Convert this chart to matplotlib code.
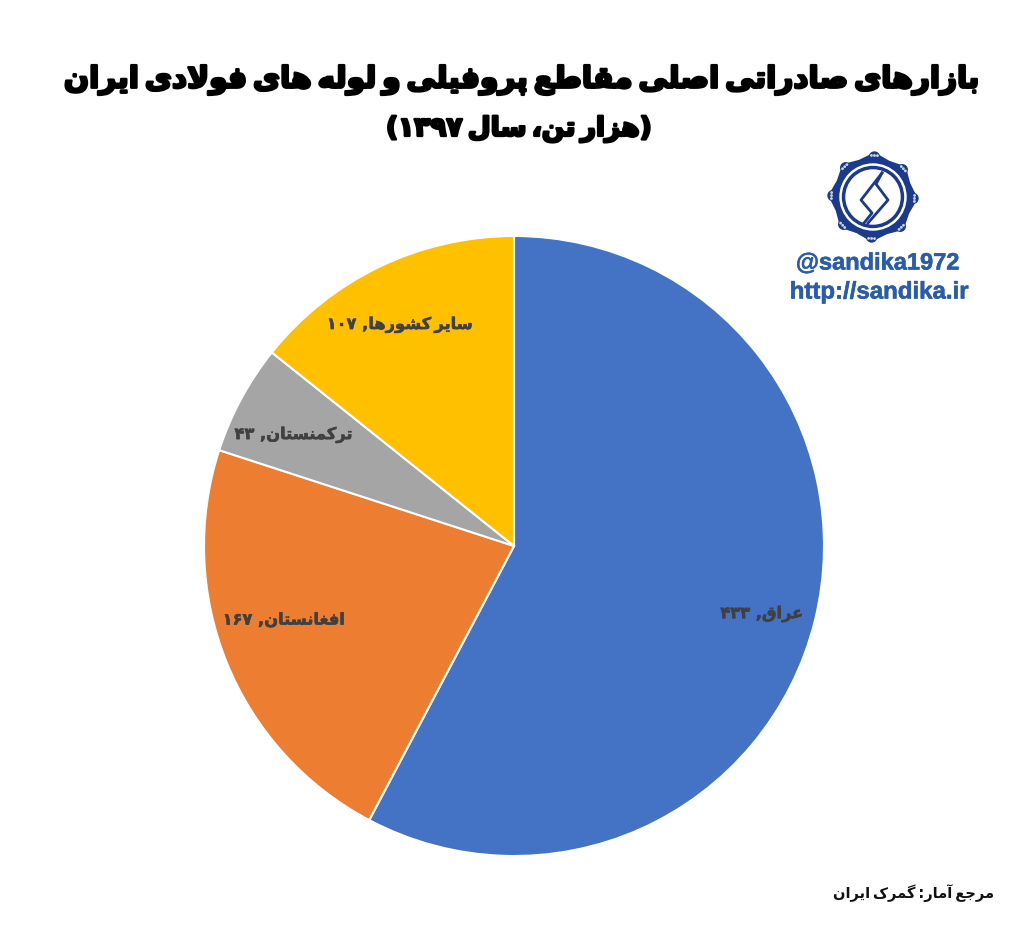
#!/usr/bin/python

import numpy as np
import matplotlib
matplotlib.use('agg')
import matplotlib.pyplot as plt
import matplotlib.patheffects as pe
from matplotlib.patches import Circle, Polygon

countries = ['عراق', 'افغانستان', 'ترکمنستان', 'سایر کشورها']
values = [433, 167, 43, 107]
value_labels = ['۴۳۳', '۱۶۷', '۴۳', '۱۰۷']
colors = ['#4472C4', '#ED7D31', '#A5A5A5', '#FFC000']
title = 'بازارهای صادراتی اصلی مقاطع پروفیلی و لوله های فولادی ایران'
subtitle = 'هزار تن، سال'
subtitle_year = '۱۳۹۷'
source = 'مرجع آمار: گمرک ایران'

# matplotlib does not shape arabic, so pick the joined glyphs by hand
forms = {
	'ا': 'ﺍﺎ', 'آ': 'ﺁﺂ', 'د': 'ﺩﺪ', 'ر': 'ﺭﺮ', 'ز': 'ﺯﺰ', 'و': 'ﻭﻮ',
	'ب': 'ﺏﺐﺑﺒ', 'پ': 'ﭖﭗﭘﭙ', 'ت': 'ﺕﺖﺗﺘ', 'ج': 'ﺝﺞﺟﺠ', 'س': 'ﺱﺲﺳﺴ',
	'ش': 'ﺵﺶﺷﺸ', 'ص': 'ﺹﺺﺻﺼ', 'ط': 'ﻁﻂﻃﻄ', 'ع': 'ﻉﻊﻋﻌ', 'غ': 'ﻍﻎﻏﻐ',
	'ف': 'ﻑﻒﻓﻔ', 'ق': 'ﻕﻖﻗﻘ', 'ک': 'ﮎﮏﮐﮑ', 'گ': 'ﮒﮓﮔﮕ', 'ل': 'ﻝﻞﻟﻠ',
	'م': 'ﻡﻢﻣﻤ', 'ن': 'ﻥﻦﻧﻨ', 'ه': 'ﻩﻪﻫﻬ', 'ی': 'ﯼﯽﯾﯿ',
}

def shape(text):
	text = text.replace('لا', '\ufefb')
	out = []
	for i, c in enumerate(text):
		if c == '\ufefb':
			prev = text[i-1] if i > 0 else ' '
			out.append('\ufefc' if prev in forms and len(forms[prev]) == 4 else c)
			continue
		if c not in forms:
			out.append(c)
			continue
		prev = text[i-1] if i > 0 else ' '
		nxt = text[i+1] if i < len(text)-1 else ' '
		join_prev = prev in forms and len(forms[prev]) == 4
		join_next = len(forms[c]) == 4 and (nxt in forms or nxt == '\ufefb')
		if join_prev and join_next:
			out.append(forms[c][3])
		elif join_next:
			out.append(forms[c][2])
		elif join_prev:
			out.append(forms[c][1])
		else:
			out.append(forms[c][0])
	return ''.join(reversed(out))

def tight(text):
	# the reference font has very narrow word gaps
	return shape(text).replace(' ', '\u2009')

W, H = 1024, 930
cx, cy, r = 514, 546, 310
fig = plt.figure(figsize=(W/100, H/100), dpi=100, facecolor='white')

ax = fig.add_axes([(cx-r)/W, (H-cy-r)/H, 2*r/W, 2*r/H])
ax.pie(values, colors=colors, startangle=90, counterclock=False,
	wedgeprops={'edgecolor': 'white', 'linewidth': 1.5})
ax.set_xlim(-1, 1)
ax.set_ylim(-1, 1)

label_pos = [(0.80, -0.22), (-0.742, -0.239), (-0.71, 0.358), (-0.368, 0.713)]
for name, val, (x, y) in zip(countries, value_labels, label_pos):
	ax.text(x, y, val + ' ,' + tight(name), ha='center', va='center',
		fontsize=11.7, fontweight='bold', color='#404040', family='DejaVu Sans',
		path_effects=[pe.withStroke(linewidth=0.4, foreground='#404040')])

# pixel coordinates for the heading, logo and footer
top = fig.add_axes([0, 0, 1, 1], facecolor='none')
top.set_xlim(0, W)
top.set_ylim(H, 0)
top.axis('off')

heavy = [pe.withStroke(linewidth=1.8, foreground='black')]
top.text(522, 80, tight(title), ha='center', va='center', fontsize=21.3,
	fontweight='bold', color='black', family='DejaVu Sans', path_effects=heavy)
top.text(519, 129, '(' + subtitle_year + '\u2009' + tight(subtitle) + ')', ha='center', va='center',
	fontsize=19, fontweight='bold', color='black', family='DejaVu Sans', path_effects=heavy)
top.text(994, 893, tight(source), ha='right', va='center', fontsize=10.5,
	fontweight='bold', color='#111111', family='DejaVu Sans')

navy = '#1B3A8C'
text_blue = '#2A5CA8'
lx, ly = 873, 197
ang = np.deg2rad(np.arange(16)*22.5 - 88)
rad = np.where(np.arange(16) % 2 == 0, 44, 39)
top.add_patch(Polygon(np.c_[lx+rad*np.cos(ang), ly+rad*np.sin(ang)], closed=True, color=navy))
# little scalloped knobs on the star tips
for a in ang[::2]:
	tx, ty = lx+40*np.cos(a), ly+40*np.sin(a)
	top.add_patch(Circle((tx, ty), 5, color=navy))
	for d in (-3, 0, 3):
		top.add_patch(Circle((tx-d*np.sin(a)+1.5*np.cos(a), ty+d*np.cos(a)+1.5*np.sin(a)), 0.7, color='#C9D3E8'))
top.add_patch(Circle((lx, ly), 33, color='white'))
top.add_patch(Circle((lx, ly), 30.5, color=navy))
top.add_patch(Circle((lx, ly), 27, color='white'))
s_line = np.array([[9, -24], [-12, 3], [-1, 16], [-9, 26]])
s_line2 = np.array([[9, -24], [3, -13], [15, 3], [-5, 26]])
top.plot(lx+s_line[:, 0], ly+s_line[:, 1], color=navy, lw=2)
top.plot(lx+s_line2[:, 0], ly+s_line2[:, 1], color=navy, lw=2)

top.text(878, 263, '@sandika1972', ha='center', va='center', fontsize=17,
	fontweight='bold', color=text_blue, family='Liberation Sans',
	path_effects=[pe.withStroke(linewidth=0.4, foreground=text_blue)])
top.text(879, 292, 'http://sandika.ir', ha='center', va='center', fontsize=17.3,
	fontweight='bold', color=text_blue, family='Liberation Sans',
	path_effects=[pe.withStroke(linewidth=0.4, foreground=text_blue)])

plt.savefig('out.png', dpi=100)
